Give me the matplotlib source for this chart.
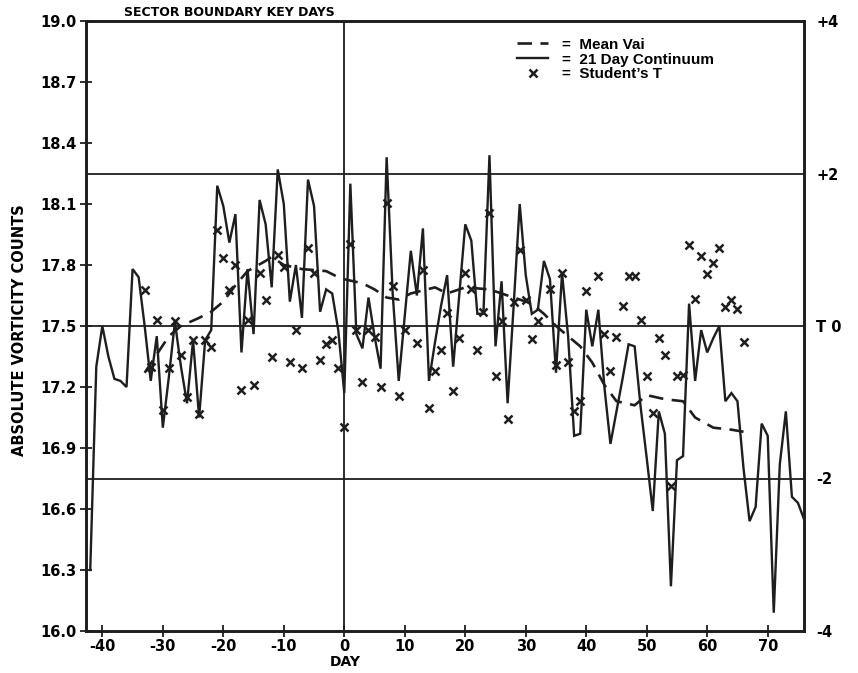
import matplotlib
matplotlib.use('Agg')
import matplotlib.pyplot as plt

# ---------------- data ----------------
cont_days = list(range(-42, 77))
cont_vals = [16.30, 17.30, 17.50, 17.35, 17.24, 17.23, 17.20, 17.78, 17.74, 17.50,   # -42..-33
             17.23, 17.45, 17.00, 17.25, 17.52, 17.30, 17.12, 17.43, 17.05, 17.43,   # -32..-23
             17.48, 18.19, 18.09, 17.91, 18.05, 17.37, 17.78, 17.46, 18.12, 18.00,   # -22..-13
             17.69, 18.27, 18.10, 17.62, 17.80, 17.54, 18.22, 18.09, 17.57, 17.68,   # -12..-3
             17.66, 17.48, 17.17, 18.20, 17.46, 17.39, 17.64, 17.45, 17.29, 18.33,   # -2..7
             17.66, 17.23, 17.55, 17.87, 17.65, 17.98, 17.23, 17.42, 17.60, 17.75,   # 8..17
             17.30, 17.65, 18.00, 17.92, 17.56, 17.56, 18.34, 17.40, 17.72, 17.12,   # 18..27
             17.60, 18.10, 17.75, 17.56, 17.58, 17.82, 17.73, 17.27, 17.76, 17.45,   # 28..37
             16.96, 16.97, 17.58, 17.40, 17.58, 17.20, 16.92, 17.08, 17.24, 17.41,   # 38..47
             17.40, 17.10, 16.85, 16.59, 17.08, 16.97, 16.22, 16.84, 16.86, 17.61,   # 48..57
             17.23, 17.48, 17.37, 17.44, 17.50, 17.13, 17.17, 17.13, 16.80, 16.54,   # 58..67
             16.61, 17.02, 16.96, 16.09, 16.82, 17.08, 16.66, 16.63, 16.55]          # 68..76

mean_days = [-33, -31, -29, -27, -24, -22, -20, -18, -16, -13, -12, -10, -7, -3, -1, 0,
             3, 5, 7, 9, 11, 15, 17, 20, 24, 26, 29, 31, 33, 35, 37, 39, 41, 43, 45,
             48, 50, 53, 56, 58, 61, 64, 66]
mean_vals = [17.27, 17.36, 17.45, 17.50, 17.54, 17.57, 17.62, 17.70, 17.77, 17.82, 17.84,
             17.80, 17.78, 17.77, 17.74, 17.73, 17.71, 17.68, 17.64, 17.63, 17.66, 17.69,
             17.66, 17.69, 17.68, 17.66, 17.63, 17.61, 17.56, 17.50, 17.45, 17.40, 17.32,
             17.21, 17.13, 17.11, 17.16, 17.14, 17.13, 17.05, 17.00, 16.99, 16.98]

t_days = [-33, -32, -31, -30, -29, -28, -27, -26, -25, -24, -23, -22, -21, -20, -19, -18,
          -17, -16, -15, -14, -13, -12, -11, -10, -9, -8, -7, -6, -5, -4, -3, -2, -1, 0,
          1, 2, 3, 4, 5, 6, 7, 8, 9, 10, 12, 13, 14, 15, 16, 17, 18, 19, 20, 21, 22, 23,
          24, 25, 26, 27, 28, 29, 30, 31, 32, 34, 35, 36, 37, 38, 39, 40, 42, 43, 44, 45,
          46, 47, 48, 49, 50, 51, 52, 53, 54, 55, 56, 57, 58, 59, 60, 61, 62, 63, 64, 65, 66]
t_vals = [0.47, -0.54, 0.08, -1.10, -0.55, 0.06, -0.38, -0.93, -0.18, -1.15, -0.18, -0.27,
          1.26, 0.89, 0.47, 0.80, -0.84, 0.08, -0.77, 0.69, 0.34, -0.40, 0.93, 0.78, -0.47,
          -0.05, -0.55, 1.02, 0.69, -0.45, -0.23, -0.18, -0.55, -1.32, 1.08, -0.05, -0.73,
          -0.05, -0.14, -0.80, 1.61, 0.52, -0.92, -0.05, -0.22, 0.73, -1.07, -0.59, -0.31,
          0.17, -0.85, -0.16, 0.69, 0.49, -0.31, 0.19, 1.48, -0.66, 0.06, -1.22, 0.32, 1.00,
          0.34, -0.17, 0.06, 0.49, -0.51, 0.69, -0.47, -1.12, -0.99, 0.46, 0.65, -0.10, -0.59,
          -0.15, 0.26, 0.66, 0.66, 0.08, -0.66, -1.14, -0.16, -0.38, -2.10, -0.66, -0.64, 1.06,
          0.35, 0.92, 0.68, 0.82, 1.02, 0.25, 0.34, 0.22, -0.21]

x_ticks = [-40, -30, -20, -10, 0, 10, 20, 30, 40, 50, 60, 70]
y_ticks = [16.0, 16.3, 16.6, 16.9, 17.2, 17.5, 17.8, 18.1, 18.4, 18.7, 19.0]
y_tick_labels = ['16.0', '16.3', '16.6', '16.9', '17.2', '17.5', '17.8', '18.1', '18.4', '18.7', '19.0']
t_ticks = [-4, -2, 0, 2, 4]
t_tick_labels = ['-4', '-2', 'T 0', '+2', '+4']
ref_levels = [18.25, 17.5, 16.75]

# ---------------- drawing ----------------
ink = '#1e1e1e'
fig = plt.figure(figsize=(8.58, 6.73), dpi=100)
ax = fig.add_axes([86 / 858, 1 - 631 / 673, 718 / 858, 610 / 673])
ax.set_xlim(-42.7, 76.0)
ax.set_ylim(16.0, 19.0)

for lv in ref_levels:
    ax.axhline(lv, color=ink, lw=1.3, zorder=1)
ax.axvline(0, color=ink, lw=1.3, zorder=1)

l_mean, = ax.plot(mean_days, mean_vals, color=ink, lw=1.9, dashes=(5.5, 3.2),
                  label='=  Mean Vai', zorder=3)
l_cont, = ax.plot(cont_days, cont_vals, color=ink, lw=1.7,
                  label='=  21 Day Continuum', zorder=3, solid_joinstyle='miter')

ax2 = ax.twinx()
ax2.set_ylim(-4, 4)
l_t, = ax2.plot(t_days, t_vals, ls='none', marker='x', ms=5.5, mew=1.8, color=ink,
                label='=  Student\u2019s T', zorder=4)

tick_font = dict(family='DejaVu Sans', weight='bold', size=10.5)
ax.set_xticks(x_ticks)
ax.set_xticklabels([str(v) for v in x_ticks], **tick_font)
ax.set_yticks(y_ticks)
ax.set_yticklabels(y_tick_labels, **tick_font)
ax.tick_params(axis='both', direction='inout', length=8, width=1.3, color=ink, pad=3)
ax.tick_params(axis='x', pad=1.5)

ax2.set_yticks(t_ticks)
ax2.set_yticklabels(t_tick_labels, **tick_font)
ax2.tick_params(axis='y', length=0, pad=9)

for a in (ax, ax2):
    for s in a.spines.values():
        s.set_linewidth(1.9)
        s.set_color(ink)

ax.set_xlabel('DAY', family='DejaVu Sans', weight='bold', size=10)
ax.xaxis.set_label_coords(0.3607, -0.040)
ax.set_ylabel('ABSOLUTE VORTICITY COUNTS', family='DejaVu Sans', weight='bold', size=10.5)
ax.yaxis.set_label_coords(-0.082, 0.493)

ax.text(0.20, 1.004, 'SECTOR BOUNDARY KEY DAYS', transform=ax.transAxes,
        ha='center', va='bottom', family='DejaVu Sans', weight='bold', size=9)

leg = ax2.legend(handles=[l_mean, l_cont, l_t], loc='upper left',
                 bbox_to_anchor=(0.59, 0.985), frameon=False, borderpad=0,
                 labelspacing=0.05, handlelength=2.0, handletextpad=0.9,
                 prop=dict(family='Liberation Sans', weight='bold', size=11))

fig.savefig('out.png', dpi=100, facecolor='white')
